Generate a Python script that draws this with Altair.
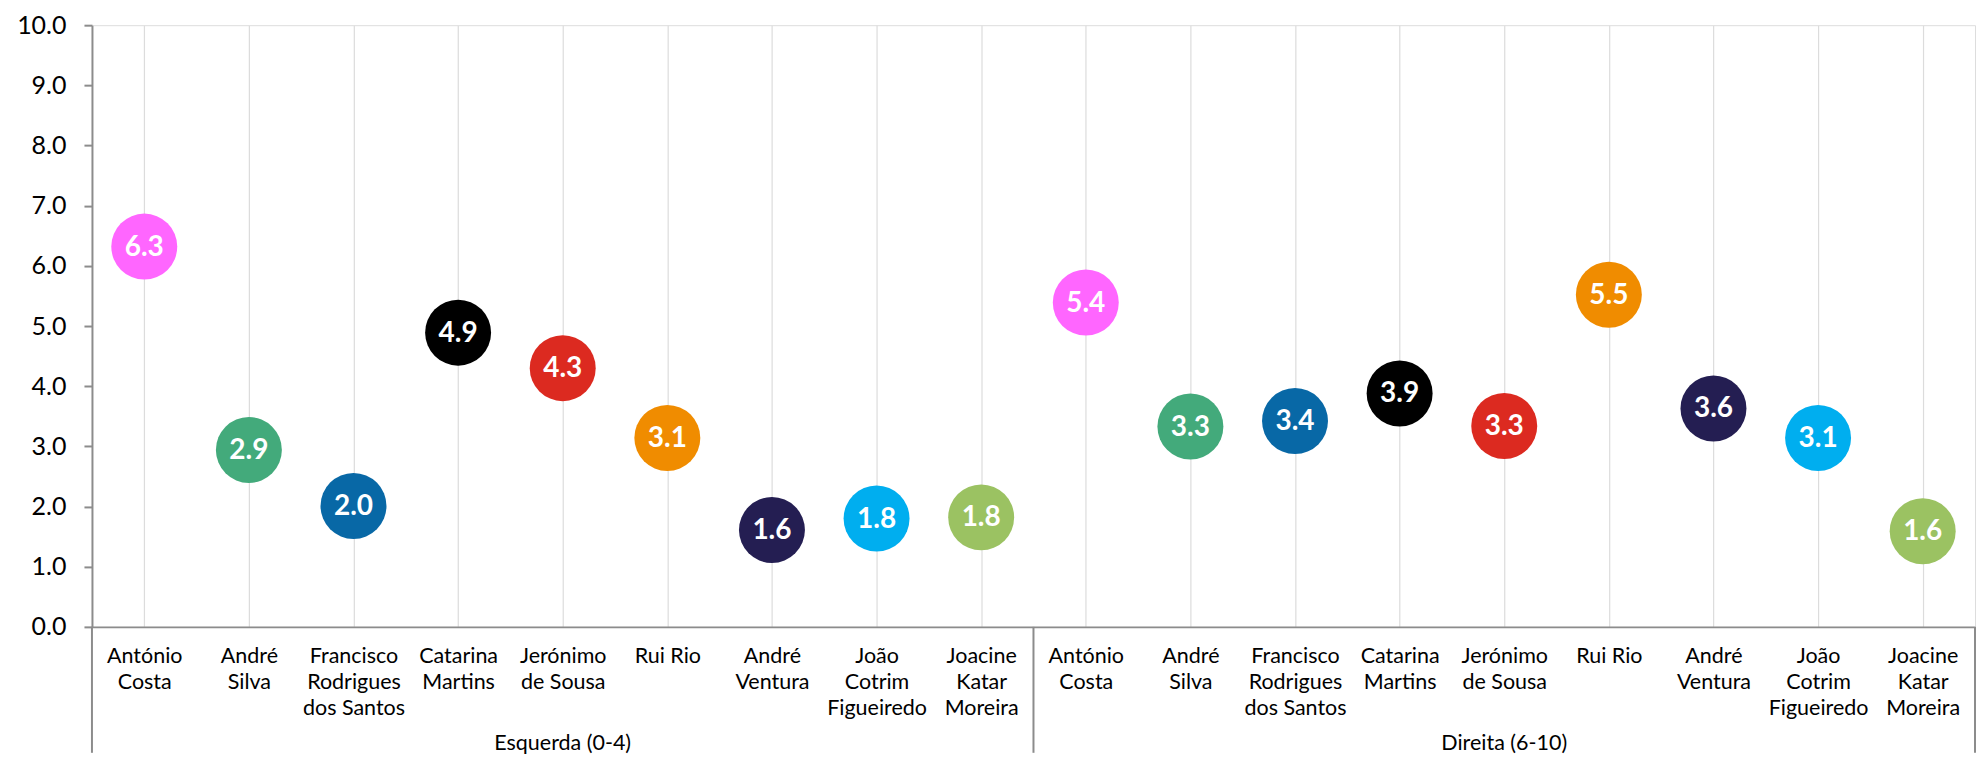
import json
import altair as alt
import pandas as pd

# ---- data ----
groups = ["Esquerda (0-4)", "Direita (6-10)"]
candidates = ["António Costa", "André Silva", "Francisco Rodrigues dos Santos",
              "Catarina Martins", "Jerónimo de Sousa", "Rui Rio",
              "André Ventura", "João Cotrim Figueiredo", "Joacine Katar Moreira"]
label_lines = [["António", "Costa"], ["André", "Silva"], ["Francisco", "Rodrigues", "dos Santos"],
               ["Catarina", "Martins"], ["Jerónimo", "de Sousa"], ["Rui Rio"],
               ["André", "Ventura"], ["João", "Cotrim", "Figueiredo"], ["Joacine", "Katar", "Moreira"]]
colors = ["#FF66FF", "#43AA7B", "#0868A6", "#000000", "#DC2A20",
          "#F08C00", "#241E52", "#00AEEF", "#9BC262"]
esquerda = [6.32, 2.94, 2.01, 4.89, 4.30, 3.14, 1.61, 1.80, 1.82]
direita = [5.39, 3.33, 3.42, 3.88, 3.34, 5.52, 3.63, 3.14, 1.59]
y_ticks = [0, 1, 2, 3, 4, 5, 6, 7, 8, 9, 10]

rows = []
for g, vals in enumerate([esquerda, direita]):
    for i, v in enumerate(vals):
        rows.append({"idx": g * len(candidates) + i, "grupo": groups[g],
                     "candidato": candidates[i], "valor": v})
df = pd.DataFrame(rows)
n = len(df)

div_df = pd.DataFrame({"pos": [-0.5 + k * len(candidates) for k in range(len(groups) + 1)]})
grp_df = pd.DataFrame({"grupo": groups,
                       "centro": [(len(candidates) - 1) / 2 + k * len(candidates) for k in range(len(groups))]})

W, H = 1884, 602
FONT = "Lato"

label_expr = "split(" + json.dumps(["\n".join(l) for l in label_lines], ensure_ascii=False) + \
             "[datum.value % " + str(len(candidates)) + "], '\\n')"

xscale = alt.Scale(domain=[-0.5, n - 0.5], nice=False, zero=False)
yscale = alt.Scale(domain=[0, 10], nice=False)

x_axis = alt.Axis(values=list(range(n)), labelExpr=label_expr, title=None,
                  grid=True, gridColor="#dcdcdc", gridWidth=1.2,
                  ticks=False, domain=True, domainColor="#8c8c8c", domainWidth=2,
                  labelFont=FONT, labelFontSize=21.5, labelColor="#000000",
                  labelLineHeight=26, labelBaseline="top", labelPadding=19,
                  labelOverlap=False, labelBound=False, labelFlush=False, labelAngle=0)
y_axis = alt.Axis(values=y_ticks, format=".1f", title=None, grid=False,
                  domainColor="#8c8c8c", domainWidth=2, tickColor="#8c8c8c",
                  tickWidth=2, tickSize=8, labelFont=FONT, labelFontSize=25,
                  labelColor="#000000", labelPadding=18, minExtent=79, maxExtent=79)

base = alt.Chart(df)

points = base.mark_circle(size=4356, opacity=1).encode(
    x=alt.X("idx:Q", scale=xscale, axis=x_axis),
    y=alt.Y("valor:Q", scale=yscale, axis=y_axis),
    color=alt.Color("candidato:N", scale=alt.Scale(domain=candidates, range=colors), legend=None),
)

texts = base.mark_text(font=FONT, fontSize=28, fontWeight="bold", color="white",
                       baseline="middle", align="center", dy=1).encode(
    x=alt.X("idx:Q", scale=xscale),
    y=alt.Y("valor:Q", scale=yscale),
    text=alt.Text("valor:Q", format=".1f"),
)

dividers = alt.Chart(div_df).mark_rule(color="#8c8c8c", strokeWidth=2).encode(
    x=alt.X("pos:Q", scale=xscale),
    y=alt.value(H),
    y2=alt.value(H + 126),
)

group_labels = alt.Chart(grp_df).mark_text(font=FONT, fontSize=21.5, color="#000000",
                                           baseline="alphabetic", align="center").encode(
    x=alt.X("centro:Q", scale=xscale),
    y=alt.value(H + 123),
    text="grupo:N",
)

chart = alt.layer(dividers, points, texts, group_labels).properties(
    width=W, height=H,
    padding={"left": 5, "top": 5, "right": 0, "bottom": 0},
).configure_view(stroke=None).configure(font=FONT)

chart.save("out.html", embed_options={"renderer": "svg", "actions": False})
